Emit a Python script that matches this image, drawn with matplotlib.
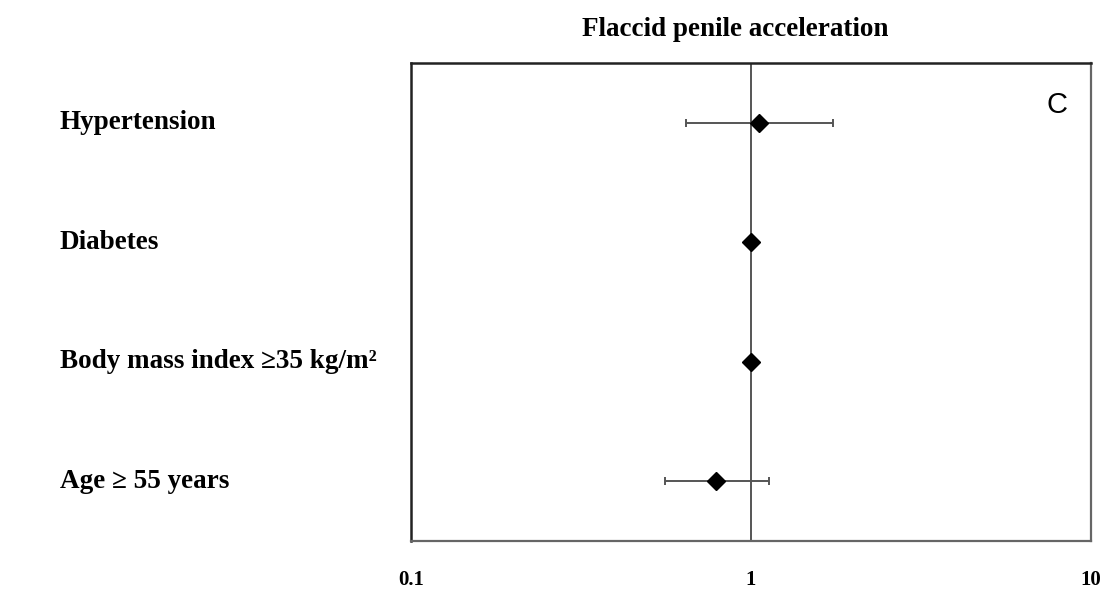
import matplotlib
matplotlib.use("Agg")
import matplotlib.pyplot as plt

# Odds ratios with 95% confidence intervals
factors = ["Age \u2265 55 years", "Body mass index \u226535 kg/m\u00b2", "Diabetes", "Hypertension"]
odds_ratio = [0.79, 1.0, 1.0, 1.056]
ci_low = [0.56, 1.0, 1.0, 0.645]
ci_high = [1.13, 1.0, 1.0, 1.74]
x_ticks = [0.1, 1, 10]
x_tick_labels = ["0.1", "1", "10"]

serif = ["Liberation Serif", "DejaVu Serif"]

fig = plt.figure(figsize=(11.04, 5.91), dpi=100)
ax = fig.add_axes([0.3723, 0.0846, 0.6159, 0.8088])

ypos = list(range(1, len(factors) + 1))
ax.axvline(1, color="#555555", lw=1.4, zorder=1)

for y, m, lo, hi in zip(ypos, odds_ratio, ci_low, ci_high):
    if hi > lo:
        ax.errorbar([m], [y], xerr=[[m - lo], [hi - m]], fmt="none",
                    ecolor="#555555", elinewidth=1.4, capsize=3, capthick=1.4, zorder=2)
ax.plot(odds_ratio, ypos, linestyle="none", marker="D", markersize=9,
        color="black", zorder=3)

ax.set_xscale("log")
ax.set_xlim(0.1, 10)
ax.set_ylim(0.5, len(factors) + 0.5)
ax.set_xticks(x_ticks)
ax.set_xticklabels(x_tick_labels, fontfamily=serif, fontweight="bold", fontsize=15)
ax.minorticks_off()
ax.tick_params(axis="x", length=0, pad=21)
ax.set_yticks([])

for side in ["top", "left"]:
    ax.spines[side].set_color("#222222")
    ax.spines[side].set_linewidth(1.8)
for side in ["right", "bottom"]:
    ax.spines[side].set_color("#666666")
    ax.spines[side].set_linewidth(1.6)

# Factor labels on the left
for y, name in zip(ypos, factors):
    disp = ax.transData.transform((0.1, y))
    fy = fig.transFigure.inverted().transform(disp)[1]
    fig.text(60 / 1104, fy, name, ha="left", va="center", fontfamily=serif,
             fontweight="bold", fontsize=19.5)

fig.text(735 / 1104, 1 - 29 / 591, "Flaccid penile acceleration", ha="center",
         va="center", fontfamily=serif, fontweight="bold", fontsize=19.5)

ax.text(0.950, 0.912, "C", transform=ax.transAxes, ha="center", va="center",
        fontfamily=["Liberation Sans", "DejaVu Sans"], fontsize=21)

fig.savefig("out.png", dpi=100, facecolor="white")
